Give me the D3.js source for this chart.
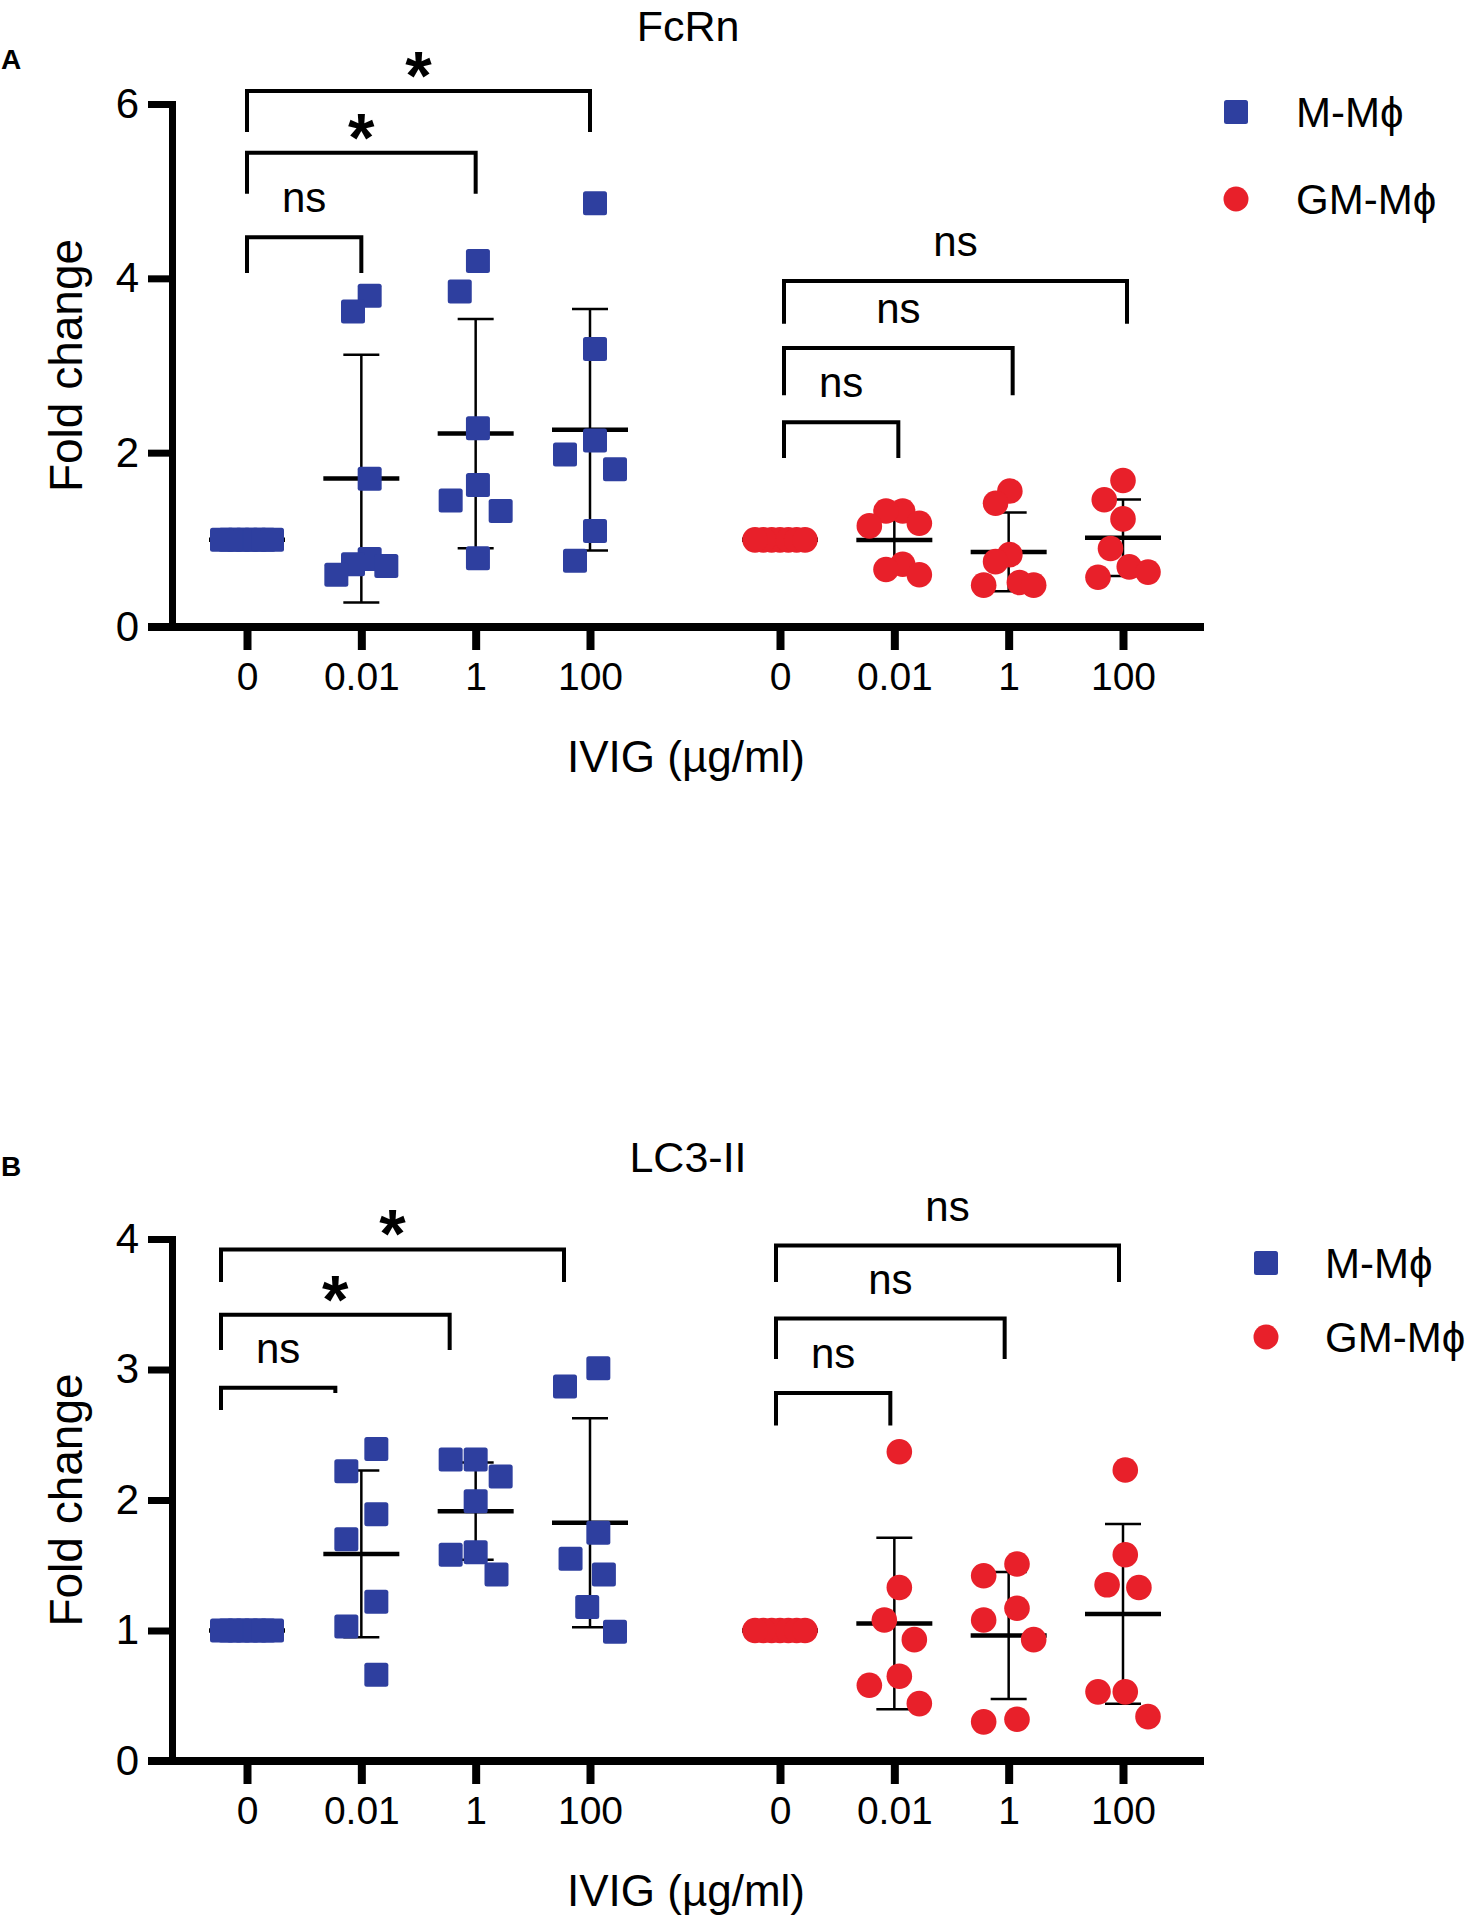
<!DOCTYPE html>
<html>
<head>
<meta charset="utf-8">
<script src="https://cdn.jsdelivr.net/npm/d3@7"></script>
<style>
  body { margin: 0; background: #fff; }
  text { font-family: "Liberation Sans", Arial, sans-serif; fill: #000; }
</style>
</head>
<body>
<div id="chart"></div>
<script>
// categories
const doses = ["0", "0.01", "1", "100"];
const cellTypes = ["M-Mϕ", "GM-Mϕ"];

// FcRn fold change, one list per IVIG dose
const fcrnM = [
  [1, 1, 1, 1, 1, 1, 1],
  [3.80, 3.62, 1.70, 0.78, 0.72, 0.70, 0.60],
  [4.20, 3.85, 2.28, 1.63, 1.45, 1.33, 0.79],
  [4.86, 3.19, 2.14, 1.98, 1.81, 1.10, 0.76]
];
const fcrnGM = [
  [1, 1, 1, 1, 1, 1, 1],
  [1.33, 1.33, 1.19, 1.16, 0.72, 0.66, 0.60],
  [1.56, 1.42, 0.83, 0.75, 0.51, 0.48, 0.48],
  [1.68, 1.46, 1.24, 0.90, 0.69, 0.63, 0.57]
];

// LC3-II fold change
const lc3M = [
  [1, 1, 1, 1, 1, 1, 1],
  [2.39, 2.22, 1.89, 1.70, 1.22, 1.03, 0.66],
  [2.31, 2.31, 2.18, 1.99, 1.60, 1.58, 1.43],
  [3.01, 2.87, 1.75, 1.55, 1.43, 1.18, 0.99]
];
const lc3GM = [
  [1, 1, 1, 1, 1, 1, 1],
  [2.37, 1.33, 1.08, 0.93, 0.65, 0.58, 0.44],
  [1.51, 1.42, 1.17, 1.08, 0.93, 0.32, 0.30],
  [2.23, 1.58, 1.35, 1.33, 0.53, 0.53, 0.34]
];

const fcrnTicks = [0, 2, 4, 6];
const lc3Ticks = [0, 1, 2, 3, 4];

// significance brackets (y = bar height, drop = leg length left/right, in fold change)
const fcrnBrackets = [
  { cell: 0, from: "0", to: "0.01", y: 4.47, drop: [0.41, 0.41], label: "ns" },
  { cell: 0, from: "0", to: "1", y: 5.44, drop: [0.47, 0.47], label: "*" },
  { cell: 0, from: "0", to: "100", y: 6.15, drop: [0.47, 0.47], label: "*" },
  { cell: 1, from: "0", to: "0.01", y: 2.35, drop: [0.41, 0.41], label: "ns" },
  { cell: 1, from: "0", to: "1", y: 3.20, drop: [0.54, 0.54], label: "ns" },
  { cell: 1, from: "0", to: "100", y: 3.97, drop: [0.49, 0.49], label: "ns" }
];
const lc3Brackets = [
  { cell: 0, from: "0", to: "0.01", y: 2.86, drop: [0.17, 0.04], label: "ns" },
  { cell: 0, from: "0", to: "1", y: 3.42, drop: [0.27, 0.27], label: "*" },
  { cell: 0, from: "0", to: "100", y: 3.92, drop: [0.25, 0.25], label: "*" },
  { cell: 1, from: "0", to: "0.01", y: 2.82, drop: [0.25, 0.25], label: "ns" },
  { cell: 1, from: "0", to: "1", y: 3.39, drop: [0.31, 0.31], label: "ns" },
  { cell: 1, from: "0", to: "100", y: 3.95, drop: [0.28, 0.28], label: "ns" }
];

const colors = ["#2e3f9f", "#e8202a"];

const width = 1468, height = 1924;
const svg = d3.select("#chart").append("svg")
  .attr("width", width)
  .attr("height", height);
svg.append("rect").attr("width", width).attr("height", height).attr("fill", "#fff");

// x: one point scale for the two cell type groups, one for the doses inside a group
const xGroup = d3.scalePoint().domain(cellTypes).range([247, 780]);
const xDose = d3.scalePoint().domain(doses).range([0, 343]);
const axisX = 172, axisLeft = 148, axisRight = 1204;
const markSize = 24;

// spread points of one column sideways (scatter dot plot style)
function swarm(values, y) {
  const step = 6, minDist = 36, maxHalf = 25;
  const order = d3.range(values.length).sort((a, b) => values[b] - values[a]);
  const placed = [], offs = new Array(values.length);
  order.forEach(i => {
    const py = y(values[i]);
    for (let k = 0; k < 300; k++) {
      const cands = k === 0 ? [0] : [-k * step, k * step];
      const dx = cands.find(c => placed.every(p => Math.hypot(p.dx - c, p.y - py) >= minDist));
      if (dx !== undefined) { offs[i] = dx; placed.push({ dx: dx, y: py }); break; }
    }
  });
  const mid = (d3.max(offs) + d3.min(offs)) / 2;
  const half = (d3.max(offs) - d3.min(offs)) / 2;
  const f = half > maxHalf ? maxHalf / half : 1;
  return offs.map(o => (o - mid) * f);
}

function drawPanel(p) {
  const g = svg.append("g");
  const y = d3.scaleLinear().domain([0, d3.max(p.ticks)]).range([p.bottom, p.top]);

  // letter + title
  g.append("text").attr("x", 1).attr("y", p.letterY)
    .attr("font-size", 28).attr("font-weight", "bold").text(p.letter);
  g.append("text").attr("x", 688).attr("y", p.titleY)
    .attr("text-anchor", "middle").attr("font-size", 43).text(p.title);

  // y axis
  const ya = g.append("g").attr("transform", `translate(${axisX},0)`)
    .call(d3.axisLeft(y).tickValues(p.ticks).tickSize(24).tickSizeOuter(0).tickPadding(9).tickFormat(d3.format("d")));
  ya.select(".domain").attr("stroke-width", 7).attr("stroke-linecap", "square");
  ya.selectAll(".tick line").attr("stroke-width", 7);
  ya.selectAll(".tick text").attr("font-size", 42).attr("font-family", "Liberation Sans, Arial, sans-serif").attr("fill", "#000");

  g.append("text")
    .attr("transform", `translate(82,${(p.top + p.bottom) / 2}) rotate(-90)`)
    .attr("text-anchor", "middle").attr("font-size", 46).text("Fold change");

  // x axis
  g.append("line").attr("x1", axisLeft).attr("x2", axisRight)
    .attr("y1", p.bottom).attr("y2", p.bottom)
    .attr("stroke", "#000").attr("stroke-width", 8);
  cellTypes.forEach(c => {
    const xa = g.append("g").attr("transform", `translate(${xGroup(c)},${p.bottom})`)
      .call(d3.axisBottom(xDose).tickSize(23).tickPadding(12));
    xa.select(".domain").remove();
    xa.selectAll(".tick line").attr("stroke-width", 8);
    xa.selectAll(".tick text").attr("font-size", 39).attr("font-family", "Liberation Sans, Arial, sans-serif").attr("fill", "#000");
  });
  g.append("text").attr("x", 686).attr("y", p.xLabelY)
    .attr("text-anchor", "middle").attr("font-size", 44).text("IVIG (µg/ml)");

  // columns: SD bars, mean line, then points
  p.series.forEach((groups, ci) => {
    groups.forEach((vals, di) => {
      const cx = xGroup(cellTypes[ci]) + xDose(doses[di]);
      const mean = d3.mean(vals), sd = d3.deviation(vals);
      const col = g.append("g");
      col.append("line").attr("x1", cx).attr("x2", cx)
        .attr("y1", y(mean + sd)).attr("y2", y(mean - sd))
        .attr("stroke", "#000").attr("stroke-width", 2.5);
      [mean + sd, mean - sd].forEach(v => {
        col.append("line").attr("x1", cx - 18).attr("x2", cx + 18)
          .attr("y1", y(v)).attr("y2", y(v))
          .attr("stroke", "#000").attr("stroke-width", 2.5);
      });
      col.append("line").attr("x1", cx - 38).attr("x2", cx + 38)
        .attr("y1", y(mean)).attr("y2", y(mean))
        .attr("stroke", "#000").attr("stroke-width", 4.5);

      const offs = swarm(vals, y);
      if (ci === 0) {
        col.selectAll("rect").data(vals).join("rect")
          .attr("x", (d, i) => cx + offs[i] - markSize / 2)
          .attr("y", d => y(d) - markSize / 2)
          .attr("width", markSize).attr("height", markSize)
          .attr("rx", 2.5).attr("fill", colors[0]);
      } else {
        col.selectAll("circle").data(vals).join("circle")
          .attr("cx", (d, i) => cx + offs[i])
          .attr("cy", d => y(d))
          .attr("r", markSize / 2 + 0.8).attr("fill", colors[1]);
      }
    });
  });

  // brackets
  p.brackets.forEach(b => {
    const base = xGroup(cellTypes[b.cell]) + p.nudge[b.cell];
    const x1 = base + xDose(b.from), x2 = base + xDose(b.to);
    const yl = y(b.y);
    g.append("path")
      .attr("d", `M${x1},${y(b.y - b.drop[0])}V${yl}H${x2}V${y(b.y - b.drop[1])}`)
      .attr("fill", "none").attr("stroke", "#000").attr("stroke-width", 4);
    const star = b.label === "*";
    g.append("text").attr("x", (x1 + x2) / 2)
      .attr("y", star ? yl + 8 : yl - 25)
      .attr("text-anchor", "middle")
      .attr("font-size", star ? 68 : 42)
      .attr("font-weight", star ? "bold" : "normal")
      .text(b.label);
  });

  // legend
  const lg = g.append("g");
  lg.append("rect").attr("x", p.legend.x - 12).attr("y", p.legend.y[0] - 12)
    .attr("width", 24).attr("height", 24).attr("rx", 2.5).attr("fill", colors[0]);
  lg.append("circle").attr("cx", p.legend.x).attr("cy", p.legend.y[1])
    .attr("r", 12.5).attr("fill", colors[1]);
  cellTypes.forEach((c, i) => {
    lg.append("text").attr("x", p.legend.tx).attr("y", p.legend.y[i])
      .attr("dy", "0.35em").attr("font-size", 42).text(c);
  });
}

drawPanel({
  letter: "A", title: "FcRn", letterY: 69, titleY: 41,
  top: 104, bottom: 627, xLabelY: 772,
  ticks: fcrnTicks, series: [fcrnM, fcrnGM], brackets: fcrnBrackets,
  nudge: [0, 4],
  legend: { x: 1236, y: [112, 199], tx: 1296 }
});

drawPanel({
  letter: "B", title: "LC3-II", letterY: 1176, titleY: 1172,
  top: 1239, bottom: 1761, xLabelY: 1906,
  ticks: lc3Ticks, series: [lc3M, lc3GM], brackets: lc3Brackets,
  nudge: [-26, -4],
  legend: { x: 1266, y: [1263, 1337], tx: 1325 }
});
</script>
</body>
</html>
